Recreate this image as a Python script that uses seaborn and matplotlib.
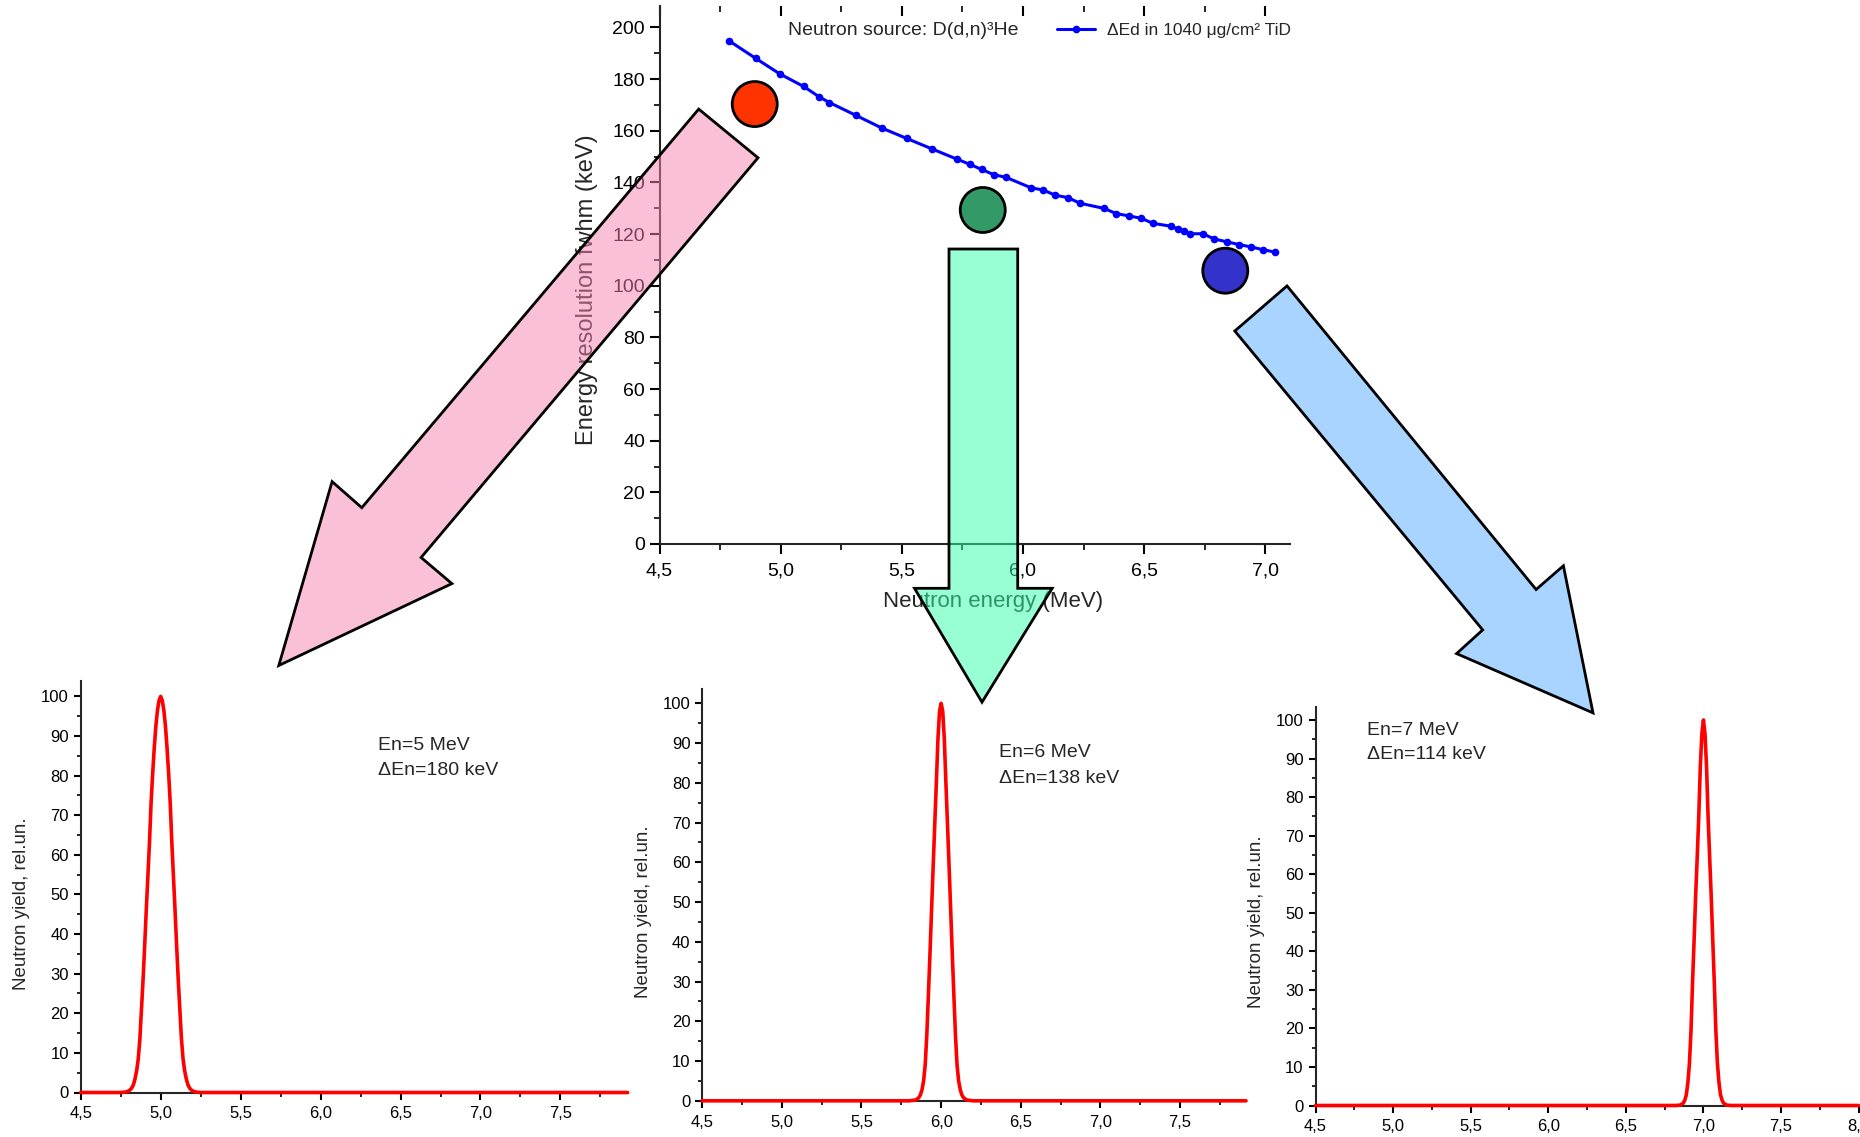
import numpy as np
import pandas as pd
import matplotlib
matplotlib.use("Agg")
import matplotlib.pyplot as plt
from matplotlib.patches import Polygon
from matplotlib.ticker import MultipleLocator
import seaborn as sns

# --- top panel: deuteron energy loss -> neutron energy resolution ---
en_mev = [4.785, 4.897, 4.996, 5.095, 5.159, 5.201, 5.309, 5.418, 5.520, 5.623,
          5.727, 5.780, 5.829, 5.879, 5.931, 6.033, 6.084, 6.134, 6.185, 6.236,
          6.335, 6.385, 6.438, 6.487, 6.538, 6.612, 6.639, 6.664, 6.690, 6.742,
          6.789, 6.840, 6.892, 6.941, 6.992, 7.040]
fwhm_kev = [194.9, 188.0, 182.0, 177.1, 173.1, 170.9, 166.0, 161.0, 157.0, 153.0,
            149.0, 147.0, 145.0, 143.0, 141.9, 137.9, 137.0, 135.0, 134.1, 131.9,
            129.9, 127.9, 127.0, 126.1, 124.1, 123.0, 121.9, 121.0, 120.1, 120.1,
            118.1, 117.0, 115.9, 115.0, 113.9, 113.0]

sel_names = ["5 MeV", "6 MeV", "7 MeV"]
sel_en = [4.893, 5.834, 6.835]
sel_fwhm = [170.3, 129.3, 105.8]
sel_colors = ["#FF3300", "#339966", "#3333CC"]

top_xticks = [4.5, 5.0, 5.5, 6.0, 6.5, 7.0]
top_xticklabels = ["4,5", "5,0", "5,5", "6,0", "6,5", "7,0"]
top_yticks = [0, 20, 40, 60, 80, 100, 120, 140, 160, 180, 200]

peak_centers = [5.0, 6.0, 7.0]
peak_text = [["En=5 MeV", "\u0394En=180 keV"],
             ["En=6 MeV", "\u0394En=138 keV"],
             ["En=7 MeV", "\u0394En=114 keV"]]
offsets_1 = [0, .01, .02, .03, .04, .05, .06, .07, .08, .09, .10, .11, .12, .13,
             .14, .15, .16, .17, .18, .19, .20, .22, .25]
yields_1 = [100, 99.0, 96.5, 92.5, 87.0, 80.5, 73.0, 63.0, 54.5, 46.0, 37.0, 28.5,
            21.0, 13.5, 8.5, 5.5, 3.5, 2.0, 1.2, 0.7, 0.4, 0.1, 0]
offsets_2 = [0, .01, .02, .03, .04, .05, .06, .07, .08, .09, .10, .11, .12, .13,
             .14, .16, .20]
yields_2 = [100, 98.0, 91.0, 80.0, 69.5, 59.0, 48.0, 37.0, 26.5, 16.5, 9.0, 5.0,
            2.8, 1.5, 0.8, 0.2, 0]
offsets_3 = [0, .01, .02, .03, .04, .05, .06, .07, .08, .09, .10, .11, .12, .13,
             .15, .18]
yields_3 = [100, 96.5, 88.0, 75.0, 64.5, 54.5, 43.0, 32.0, 19.5, 11.0, 6.0, 2.8,
            1.4, 0.6, 0.1, 0]
profiles = [(offsets_1, yields_1), (offsets_2, yields_2), (offsets_3, yields_3)]

bot_xticks = [4.5, 5.0, 5.5, 6.0, 6.5, 7.0, 7.5, 8.0]
bot_xticklabels = ["4,5", "5,0", "5,5", "6,0", "6,5", "7,0", "7,5", "8,0"]
bot_yticks = [0, 10, 20, 30, 40, 50, 60, 70, 80, 90, 100]
bot_xmax = [7.92, 7.914, 8.0]
bot_ymax = [103.9, 103.6, 103.5]
text_pos = [(6.36, 87.7), (6.364, 87.5), (4.83, 97.3)]

# block arrows, figure pixel coordinates (top-left origin)
arrows = [
    ([(698.7, 109.1), (361.8, 507.7), (332.1, 481.6), (278.8, 665.5),
      (451.9, 583.6), (421.1, 557.5), (758.0, 157.8)], (0.96, 0.51, 0.69, 0.5)),
    ([(949.0, 249.0), (1017.7, 249.0), (1017.7, 588.3), (1052.2, 588.3),
      (982.0, 702.2), (914.5, 588.3), (949.0, 588.3)], (0.20, 1.0, 0.68, 0.5)),
    ([(1287.0, 285.9), (1536.1, 589.5), (1563.4, 565.8), (1593.0, 712.9),
      (1456.6, 653.6), (1482.7, 629.9), (1234.8, 331.0)], (0.33, 0.67, 1.0, 0.5)),
]

sns.set_theme(style="ticks")
NARROW = ["Liberation Sans Narrow", "Liberation Sans", "DejaVu Sans"]
REG = ["Liberation Sans", "DejaVu Sans"]
plt.rcParams["font.family"] = NARROW
plt.rcParams["axes.linewidth"] = 1.5
plt.rcParams["xtick.major.width"] = 1.5
plt.rcParams["ytick.major.width"] = 1.5
plt.rcParams["xtick.minor.width"] = 1.2
plt.rcParams["ytick.minor.width"] = 1.2
plt.rcParams["xtick.color"] = "black"
plt.rcParams["ytick.color"] = "black"

W, H = 1860, 1137
fig = plt.figure(figsize=(W / 100, H / 100), dpi=100)

# ---------------- top panel ----------------
ax = fig.add_axes([659.5 / W, 1 - 544 / H, 630 / W, 538.1 / H])
df_top = pd.DataFrame({"en": en_mev, "fwhm": fwhm_kev})
sns.lineplot(data=df_top, x="en", y="fwhm", ax=ax, color="blue", lw=2.2,
             marker="o", markersize=5.5, markeredgewidth=0,
             label="\u0394Ed in 1040 \u03bcg/cm\u00b2 TiD")
df_sel = pd.DataFrame({"en": sel_en, "fwhm": sel_fwhm, "name": sel_names})
sns.scatterplot(data=df_sel, x="en", y="fwhm", hue="name",
                palette=dict(zip(sel_names, sel_colors)), s=1050,
                edgecolor="black", linewidth=2, ax=ax, legend=False, zorder=5)
ax.set_xlim(4.5, 7.1)
ax.set_ylim(0, 208.3)
ax.set_xticks(top_xticks)
ax.set_xticklabels(top_xticklabels)
ax.set_yticks(top_yticks)
ax.xaxis.set_minor_locator(MultipleLocator(0.25))
ax.yaxis.set_minor_locator(MultipleLocator(10))
ax.tick_params(which="major", length=7, labelsize=14, direction="out")
ax.tick_params(axis="x", which="major", pad=6)
ax.tick_params(which="minor", length=4, direction="out")
for s in ["top", "right"]:
    ax.spines[s].set_visible(False)
sec = ax.secondary_xaxis("top")
sec.set_xticks(top_xticks)
sec.set_xticklabels([])
sec.xaxis.set_minor_locator(MultipleLocator(0.25))
sec.tick_params(which="major", length=7, direction="in")
sec.tick_params(which="minor", length=4, direction="in")
sec.spines["top"].set_visible(False)
ax.set_xlabel("Neutron energy (MeV)", fontsize=16)
ax.xaxis.set_label_coords(0.529, -0.087)
ax.set_ylabel("Energy resolution fwhm (keV)", fontsize=17, family=REG)
ax.yaxis.set_label_coords(-0.097, 0.473)
ax.text(5.029, 198.7, "Neutron source: D(d,n)\u00b3He", fontsize=14,
        ha="left", va="center")
ax.legend(loc="center left", bbox_to_anchor=(0.631, 0.954), frameon=False,
          fontsize=12.5, borderpad=0, borderaxespad=0, handlelength=2.2,
          handletextpad=0.7)

# ---------------- bottom panels ----------------
boxes = [(80.7, 1092.5, 546.9, 411.5), (702.2, 1100.8, 543.8, 411.8),
         (1315.5, 1105.5, 543.1, 399.0)]
for i, (x0, yb, w, h) in enumerate(boxes):
    b = fig.add_axes([x0 / W, 1 - yb / H, w / W, h / H])
    off, yl = profiles[i]
    c = peak_centers[i]
    xs = [4.5] + [c - o for o in off[::-1]] + [c + o for o in off[1:]] + [bot_xmax[i]]
    ys = [0] + yl[::-1] + yl[1:] + [0]
    sns.lineplot(x=xs, y=ys, ax=b, color="red", lw=2.6, sort=False,
                 estimator=None, zorder=3, clip_on=False)
    b.set_xlim(4.5, bot_xmax[i])
    b.set_ylim(0, bot_ymax[i])
    b.set_xticks(bot_xticks)
    b.set_xticklabels(bot_xticklabels)
    b.set_xlim(4.5, bot_xmax[i])
    b.set_yticks(bot_yticks)
    b.xaxis.set_minor_locator(MultipleLocator(0.25))
    b.yaxis.set_minor_locator(MultipleLocator(5))
    b.tick_params(which="major", length=5, labelsize=12, direction="out")
    b.tick_params(axis="x", which="major", pad=5)
    b.tick_params(which="minor", length=3, direction="out")
    for s in ["top", "right"]:
        b.spines[s].set_visible(False)
    b.set_ylabel("Neutron yield, rel.un.", fontsize=13.5, family=REG)
    b.yaxis.set_label_coords(-0.093, 0.46)
    if i == 1:
        b.set_xlabel("Neutron energy (MeV)", fontsize=15)
        b.xaxis.set_label_coords(0.5, -0.118)
    tx, ty = text_pos[i]
    b.text(tx, ty, peak_text[i][0], fontsize=14, ha="left", va="center")
    b.text(tx, ty - 6.3, peak_text[i][1], fontsize=14, ha="left", va="center")

# ---------------- block arrows overlay ----------------
ov = fig.add_axes([0, 0, 1, 1], zorder=20)
ov.set_xlim(0, W)
ov.set_ylim(H, 0)
ov.axis("off")
ov.patch.set_alpha(0)
for verts, fc in arrows:
    ov.add_patch(Polygon(verts, closed=True, facecolor=fc, edgecolor="black",
                         linewidth=2, joinstyle="miter"))

fig.savefig("out.png", dpi=100)
